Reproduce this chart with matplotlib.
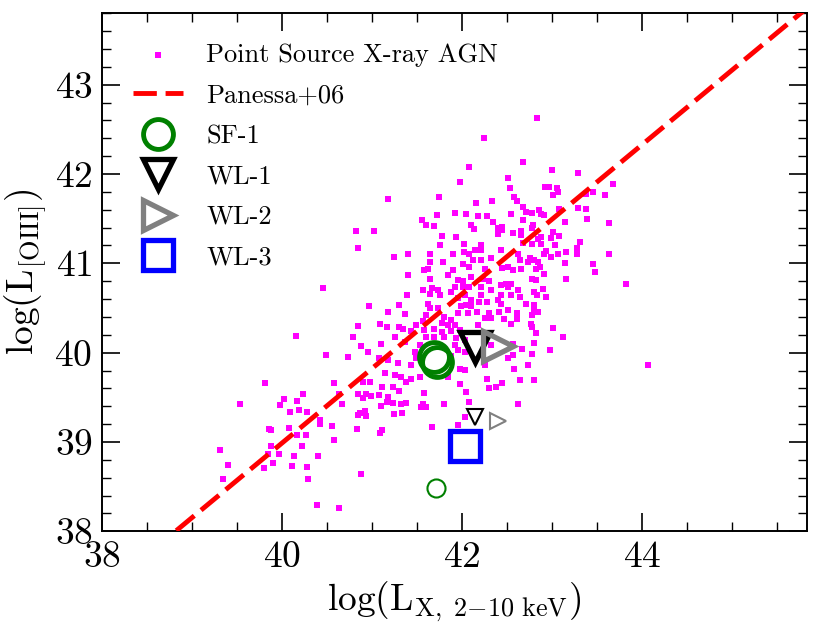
import numpy as np
import matplotlib
matplotlib.use("Agg")
import matplotlib.pyplot as plt
from matplotlib.ticker import MultipleLocator

plt.rcParams['font.family'] = 'serif'
plt.rcParams['font.serif'] = ['cmr10', 'DejaVu Serif']
plt.rcParams['mathtext.fontset'] = 'cm'
plt.rcParams['axes.formatter.use_mathtext'] = True

# point source X-ray AGN: (log L_X, log L_[OIII])
agn_points = np.array([
    # upper cloud
    (42.24, 42.40), (42.08, 42.08), (41.98, 41.91), (41.17, 41.72), (41.74, 41.74),
    (42.15, 41.68), (42.33, 41.70), (41.55, 41.48), (41.60, 41.43), (41.69, 41.42),
    (41.72, 41.54), (41.92, 41.56), (42.04, 41.55), (42.17, 41.53), (42.28, 41.53),
    (42.34, 41.46), (42.10, 41.43), (42.13, 41.39), (40.82, 41.36), (41.02, 41.36),
    (41.78, 41.31), (41.93, 41.30), (42.02, 41.22), (42.21, 41.21), (41.75, 41.21),
    (42.83, 42.63), (42.68, 42.14), (43.00, 42.05), (43.29, 42.01), (42.51, 41.95),
    (42.53, 41.84), (42.92, 41.86), (42.96, 41.85), (43.05, 41.84), (43.06, 41.80),
    (43.01, 41.76), (43.68, 41.89), (43.45, 41.80), (43.59, 41.76), (43.38, 41.78),
    (42.57, 41.74), (42.61, 41.70), (42.67, 41.63), (42.71, 41.58), (42.77, 41.56),
    (42.85, 41.60), (42.87, 41.55), (42.91, 41.54), (43.08, 41.61), (43.29, 41.62),
    (43.37, 41.61), (43.39, 41.50), (42.54, 41.55), (42.67, 41.49), (43.14, 41.46),
    (43.63, 41.45), (42.79, 41.43), (42.77, 41.40), (42.40, 41.40), (42.44, 41.41),
    (42.44, 41.37), (42.40, 41.33), (42.56, 41.34), (42.65, 41.36), (42.65, 41.32),
    (43.01, 41.35), (43.07, 41.31), (42.99, 41.28), (42.84, 41.27), (42.87, 41.30),
    (43.31, 41.24), (42.67, 41.23), (42.77, 41.22), (42.88, 41.22), (43.03, 41.21),
    # right half, middle
    (42.43, 41.15), (42.93, 41.14), (42.91, 41.10), (43.15, 41.13), (43.28, 41.17),
    (43.28, 41.11), (43.06, 41.11), (42.99, 41.07), (43.63, 41.11), (42.62, 41.11),
    (42.64, 41.04), (42.75, 41.06), (42.80, 41.04), (42.73, 41.02), (42.84, 41.02),
    (43.14, 41.00), (43.45, 40.99), (42.44, 40.95), (42.51, 40.96), (42.56, 40.93),
    (42.65, 40.94), (42.82, 40.94), (42.86, 40.96), (42.91, 40.88), (43.47, 40.90),
    (42.77, 40.83), (42.82, 40.81), (43.15, 40.83), (43.82, 40.77), (42.43, 40.76),
    (42.49, 40.77), (42.54, 40.77), (42.51, 40.74), (42.62, 40.70), (42.90, 40.71),
    (42.80, 40.68), (42.83, 40.65), (42.93, 40.62), (42.54, 40.65), (42.43, 40.65),
    (42.64, 40.62), (42.40, 40.59), (42.43, 40.55), (42.71, 40.55), (42.80, 40.53),
    (42.80, 40.49), (42.84, 40.46), (42.51, 40.48), (42.41, 40.46), (42.61, 40.44),
    (42.77, 40.42), (42.46, 40.38), (42.61, 40.38), (42.54, 40.32), (42.76, 40.32),
    (42.77, 40.29), (43.01, 40.28), (42.82, 40.22), (43.12, 40.18), (42.80, 40.11),
    (42.56, 40.10), (42.66, 40.04), (42.97, 40.03), (42.77, 39.98), (42.51, 39.94),
    (42.56, 39.97), (42.73, 39.86), (42.57, 39.82), (42.64, 39.69), (42.80, 39.69),
    # centre
    (40.84, 41.17), (41.24, 41.07), (41.40, 41.10), (41.64, 41.10), (41.90, 41.11),
    (42.02, 41.13), (42.08, 41.11), (42.14, 41.15), (42.21, 41.15), (42.12, 41.04),
    (42.21, 41.04), (41.79, 41.02), (41.64, 41.02), (41.62, 40.94), (41.58, 40.93),
    (41.90, 40.93), (42.01, 40.99), (42.08, 40.96), (42.25, 40.94), (42.32, 41.06),
    (41.40, 40.87), (41.64, 40.83), (41.84, 40.87), (41.95, 40.81), (42.01, 40.80),
    (42.10, 40.85), (42.23, 40.83), (42.30, 40.80), (42.21, 40.74), (41.92, 40.74),
    (42.01, 40.74), (42.08, 40.73), (41.56, 40.70), (41.66, 40.72), (41.73, 40.70),
    (41.64, 40.66), (41.75, 40.65), (41.88, 40.68), (41.39, 40.65), (42.03, 40.65),
    (42.21, 40.65), (42.32, 40.70), (41.95, 40.61), (42.10, 40.59), (42.19, 40.57),
    (42.28, 40.57), (41.99, 40.52), (42.04, 40.53), (42.10, 40.52), (40.96, 40.52),
    (41.30, 40.53), (41.62, 40.55), (41.64, 40.50), (41.73, 40.50), (41.18, 40.46),
    (41.36, 40.43), (41.60, 40.42), (41.95, 40.44), (42.06, 40.44), (42.16, 40.46),
    (42.30, 40.44), (42.25, 40.39), (42.32, 40.39), (41.80, 40.40), (41.88, 40.37),
    (41.49, 40.31), (41.56, 40.35), (41.77, 40.33), (41.84, 40.31), (41.09, 40.32),
    (41.16, 40.29), (41.30, 40.29), (41.34, 40.27), (40.84, 40.30), (41.92, 40.31),
    (42.17, 40.31), (41.43, 40.24), (41.58, 40.25), (41.69, 40.27), (41.77, 40.23),
    (41.88, 40.24), (41.97, 40.25), (41.25, 40.18), (40.79, 40.17), (41.60, 40.18),
    (41.69, 40.18), (41.80, 40.18), (41.93, 40.16), (42.03, 40.14), (41.10, 40.10),
    (41.36, 40.12), (41.53, 40.09), (40.88, 40.07), (40.95, 40.01), (41.47, 40.01),
    (41.95, 40.03), (42.03, 40.01), (42.32, 40.09), (41.92, 40.09), (40.73, 39.95),
    (41.08, 39.94), (41.18, 39.92), (41.49, 39.94), (41.88, 39.96), (41.29, 39.88),
    (41.43, 39.86), (41.97, 39.82), (42.03, 39.81), (42.25, 39.86), (41.14, 39.77),
    (41.25, 39.75), (41.32, 39.73), (41.43, 39.71), (41.53, 39.73), (41.84, 39.73),
    (42.27, 39.71),
    # left side
    (40.45, 40.72), (40.15, 40.19), (40.49, 39.97),
    (39.81, 39.66), (40.58, 39.66), (40.23, 39.54), (40.63, 39.54), (40.66, 39.43),
    (39.53, 39.43), (40.02, 39.48), (39.97, 39.41), (40.16, 39.46), (40.19, 39.36),
    (40.09, 39.34), (40.27, 39.34), (40.42, 39.25), (40.42, 39.20), (40.55, 39.18),
    (39.85, 39.15), (39.87, 39.13), (40.07, 39.16), (40.16, 39.08), (40.26, 39.08),
    (40.57, 39.02), (39.88, 38.95), (40.22, 38.95), (39.31, 38.91), (39.84, 38.87),
    (39.96, 38.86), (40.13, 38.84), (40.40, 38.84), (39.40, 38.74), (39.90, 38.76),
    (39.80, 38.71), (40.11, 38.73), (40.27, 38.72), (39.34, 38.59), (40.29, 38.59),
    (40.39, 38.30), (40.63, 38.26),
    # lower centre
    (40.90, 39.67), (40.97, 39.67), (41.38, 39.67), (41.11, 39.62), (41.23, 39.61),
    (40.84, 39.54), (40.93, 39.54), (40.99, 39.51), (41.08, 39.53), (41.30, 39.57),
    (41.58, 39.55), (41.97, 39.65), (42.04, 39.56), (42.30, 39.60), (40.90, 39.49),
    (41.18, 39.50), (41.16, 39.45), (41.23, 39.44), (41.32, 39.43), (41.38, 39.44),
    (41.80, 39.43), (42.08, 39.45), (41.56, 39.43), (41.54, 39.39), (41.60, 39.39),
    (41.10, 39.40), (40.86, 39.33), (40.92, 39.35), (40.93, 39.29), (40.84, 39.30),
    (41.24, 39.31), (41.33, 39.32), (42.03, 39.28), (41.66, 39.17), (41.95, 39.19),
    (40.83, 39.14), (41.11, 39.13), (41.09, 39.10), (40.88, 38.64),
    (42.38, 39.61), (42.44, 39.66), (42.62, 39.43), (44.06, 39.86),
])
agn_lx, agn_loiii = agn_points.T

# Panessa+06 relation as drawn
panessa_slope = 0.835
panessa_icpt = 5.59
line_lx = np.array([38.0, 46.0])

# special sources (big = first entry, small = second)
sf1_lx = [41.69, 41.72]
sf1_loiii = [39.95, 39.90]
sf1_small_lx = [41.71]
sf1_small_loiii = [38.49]
wl1_lx = [42.14, 42.14]
wl1_loiii = [40.06, 39.28]
wl2_lx = [42.40, 42.40]
wl2_loiii = [40.08, 39.23]
wl3_lx = [42.03]
wl3_loiii = [38.95]

fig, ax = plt.subplots(figsize=(8.31, 6.31), dpi=100)
fig.subplots_adjust(left=0.123, right=0.971, bottom=0.158, top=0.979)

ax.scatter(agn_lx, agn_loiii, s=18, marker='s', color='magenta', linewidths=0,
           zorder=2, label='Point Source X-ray AGN')
ax.plot(line_lx, panessa_slope * line_lx + panessa_icpt, color='red', lw=3.5,
        ls='--', dashes=(4.8, 1.8), zorder=3, label='Panessa+06')

ax.plot(sf1_lx, sf1_loiii, 'o', ms=21.5, mew=3.5, mfc='none', mec='green',
        zorder=4, label='SF-1')
ax.plot(sf1_small_lx, sf1_small_loiii, 'o', ms=13, mew=1.5, mfc='none',
        mec='green', zorder=4)
ax.plot(wl1_lx[:1], wl1_loiii[:1], 'v', ms=22, mew=3.8, mfc='none', mec='black',
        zorder=4, label='WL-1')
ax.plot(wl1_lx[1:], wl1_loiii[1:], 'v', ms=12, mew=1.5, mfc='none', mec='black',
        zorder=4)
ax.plot(wl2_lx[:1], wl2_loiii[:1], '>', ms=22, mew=3.8, mfc='none', mec='grey',
        zorder=4, label='WL-2')
ax.plot(wl2_lx[1:], wl2_loiii[1:], '>', ms=12, mew=1.5, mfc='none', mec='grey',
        zorder=4)
ax.plot(wl3_lx, wl3_loiii, 's', ms=21, mew=3.8, mfc='none', mec='blue',
        zorder=4, label='WL-3')

ax.set_xlim(38, 45.83)
ax.set_ylim(38, 43.8)
ax.xaxis.set_major_locator(MultipleLocator(2))
ax.xaxis.set_minor_locator(MultipleLocator(0.5))
ax.yaxis.set_major_locator(MultipleLocator(1))
ax.yaxis.set_minor_locator(MultipleLocator(0.2))
ax.tick_params(which='both', direction='in', top=True, right=True)
ax.tick_params(which='major', length=13, width=1.2, labelsize=27, pad=7)
ax.tick_params(which='minor', length=6.5, width=1.0)
for sp in ax.spines.values():
    sp.set_linewidth(1.4)

ax.set_xlabel(r'$\log(\mathrm{L}_{\mathrm{X,\ 2{-}10\ keV}})$', fontsize=27)
ax.set_ylabel(r'$\log(\mathrm{L}_{[\mathrm{OIII}]})$', fontsize=27)

ax.legend(loc='upper left', frameon=False, fontsize=19, scatterpoints=1,
          handlelength=1.9, handletextpad=0.9, labelspacing=0.63,
          borderaxespad=0.75)

plt.savefig("out.png", dpi=100)
